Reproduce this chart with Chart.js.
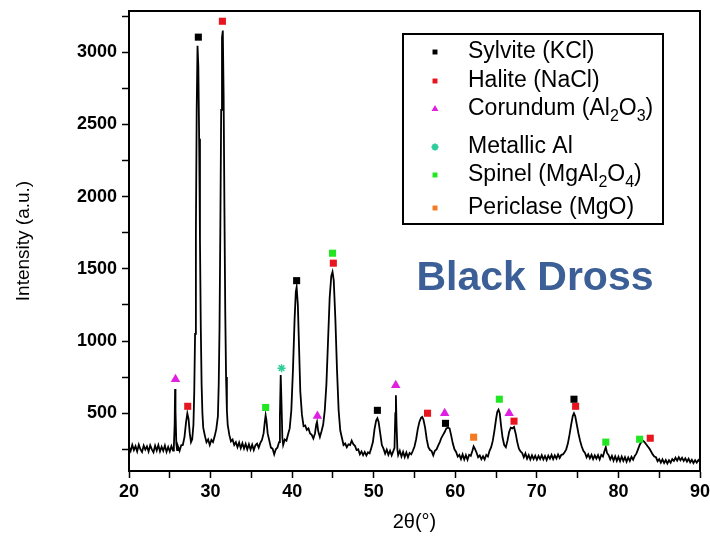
<!DOCTYPE html>
<html><head><meta charset="utf-8">
<script src="https://cdn.jsdelivr.net/npm/chart.js@4/dist/chart.umd.min.js"></script>
<style>html,body{margin:0;padding:0;background:#fff}</style>
</head><body>
<canvas id="c" width="710" height="536"></canvas>
<script>
// XRD scan: [2theta, intensity]
const scan = [
[20.0,265],[20.2,238],[20.4,280],[20.6,245],[20.8,272],[21.0,236],[21.2,282],[21.4,250],[21.6,232],[21.8,276],
[22.0,248],[22.2,270],[22.4,235],[22.6,278],[22.8,250],[23.0,230],[23.2,275],[23.4,242],[23.6,280],[23.8,236],
[24.0,268],[24.2,240],[24.4,276],[24.6,232],[24.8,266],[25.0,235],[25.2,272],[25.4,242],[25.5,265],[25.6,430],
[25.65,668],[25.7,520],[25.8,290],[25.9,245],[26.0,272],[26.2,240],[26.4,278],[26.6,280],[26.8,335],[27.0,440],
[27.15,498],[27.3,460],[27.45,360],[27.6,300],[27.75,320],[27.9,420],[28.0,650],[28.1,1050],[28.2,1750],[28.3,2600],
[28.4,3045],[28.5,2900],[28.6,2400],[28.7,1700],[28.8,1100],[28.9,700],[29.0,500],[29.1,400],[29.3,345],[29.5,300],
[29.7,318],[29.9,280],[30.1,315],[30.3,300],[30.5,340],[30.7,390],[30.9,480],[31.0,700],[31.1,1100],[31.2,1800],
[31.3,2600],[31.4,3100],[31.5,3150],[31.6,2700],[31.7,1900],[31.8,1200],[31.9,750],[32.0,520],[32.1,420],[32.3,350],
[32.5,305],[32.7,318],[32.9,280],[33.1,300],[33.3,265],[33.5,298],[33.7,258],[33.9,292],[34.1,255],[34.3,288],
[34.5,250],[34.7,285],[34.9,248],[35.1,282],[35.3,245],[35.5,278],[35.7,290],[35.9,262],[36.1,295],[36.3,315],
[36.5,360],[36.65,440],[36.75,485],[36.85,450],[37.0,360],[37.2,310],[37.4,262],[37.6,255],[37.8,215],[38.0,250],
[38.2,262],[38.4,300],[38.5,480],[38.6,765],[38.7,560],[38.8,330],[38.9,280],[39.1,318],[39.3,310],[39.5,355],
[39.7,395],[39.9,520],[40.1,800],[40.3,1150],[40.45,1340],[40.55,1372],[40.7,1250],[40.85,950],[41.0,650],[41.2,490],
[41.4,410],[41.6,415],[41.8,385],[42.0,395],[42.2,360],[42.4,350],[42.6,325],[42.8,360],[42.95,420],[43.05,440],
[43.2,375],[43.4,335],[43.6,375],[43.8,420],[44.0,520],[44.2,700],[44.4,1000],[44.6,1300],[44.8,1450],[44.95,1478],
[45.1,1420],[45.3,1150],[45.5,800],[45.7,520],[45.9,380],[46.1,330],[46.3,280],[46.5,290],[46.7,265],[46.9,285],
[47.1,280],[47.3,310],[47.5,285],[47.7,275],[47.9,245],[48.1,250],[48.3,215],[48.5,235],[48.7,210],[48.9,232],
[49.1,208],[49.3,230],[49.5,222],[49.7,260],[49.9,300],[50.1,390],[50.3,450],[50.45,465],[50.6,440],[50.8,360],
[51.0,280],[51.2,255],[51.4,220],[51.6,248],[51.8,212],[52.0,240],[52.2,208],[52.4,238],[52.55,260],[52.65,500],
[52.72,625],[52.8,420],[52.9,250],[53.0,210],[53.2,240],[53.4,200],[53.6,232],[53.8,196],[54.0,228],[54.2,195],
[54.4,225],[54.6,215],[54.8,240],[55.0,270],[55.2,320],[55.4,390],[55.6,440],[55.8,468],[55.95,475],[56.1,455],
[56.3,400],[56.5,320],[56.7,265],[56.9,245],[57.1,238],[57.3,208],[57.5,240],[57.7,250],[57.9,275],[58.1,300],
[58.3,330],[58.5,350],[58.7,370],[58.9,395],[59.1,400],[59.3,395],[59.5,345],[59.7,290],[59.9,250],[60.1,232],
[60.3,200],[60.5,212],[60.7,182],[60.9,215],[61.1,180],[61.3,210],[61.5,178],[61.7,212],[61.9,205],[62.1,240],
[62.25,270],[62.4,255],[62.6,228],[62.8,195],[63.0,208],[63.2,182],[63.4,202],[63.6,180],[63.8,212],[64.0,200],
[64.2,240],[64.4,265],[64.6,310],[64.8,380],[65.0,460],[65.15,510],[65.3,525],[65.45,500],[65.6,420],[65.8,330],
[66.0,280],[66.2,265],[66.4,310],[66.6,370],[66.8,400],[67.0,395],[67.2,405],[67.4,360],[67.6,300],[67.8,255],
[68.0,235],[68.2,225],[68.4,195],[68.6,222],[68.8,185],[69.0,210],[69.2,180],[69.4,208],[69.6,182],[69.8,206],
[70.0,178],[70.2,205],[70.4,182],[70.6,210],[70.8,180],[71.0,204],[71.2,176],[71.4,206],[71.6,185],[71.8,212],
[72.0,182],[72.2,208],[72.4,186],[72.6,214],[72.8,190],[73.0,212],[73.2,215],[73.4,230],[73.6,250],[73.8,290],
[74.0,350],[74.2,420],[74.4,480],[74.55,500],[74.7,480],[74.9,420],[75.1,360],[75.3,310],[75.5,270],[75.7,240],
[75.9,225],[76.1,195],[76.3,215],[76.5,188],[76.7,212],[76.9,182],[77.1,208],[77.3,185],[77.5,210],[77.7,180],
[77.9,212],[78.1,200],[78.3,240],[78.45,265],[78.6,225],[78.8,210],[79.0,180],[79.2,205],[79.4,172],[79.6,202],
[79.8,170],[80.0,198],[80.2,168],[80.4,200],[80.6,170],[80.8,196],[81.0,165],[81.2,194],[81.4,170],[81.6,198],
[81.8,178],[82.0,205],[82.2,220],[82.4,250],[82.6,280],[82.8,300],[83.0,310],[83.2,300],[83.4,285],[83.6,270],
[83.8,255],[84.0,235],[84.2,215],[84.4,200],[84.6,195],[84.8,168],[85.0,182],[85.2,158],[85.4,180],[85.6,155],
[85.8,176],[86.0,152],[86.2,174],[86.4,158],[86.6,182],[86.8,170],[87.0,192],[87.2,172],[87.4,195],[87.6,175],
[87.8,192],[88.0,170],[88.2,188],[88.4,165],[88.6,185],[88.8,160],[89.0,178],[89.2,155],[89.4,175],[89.6,158],
[89.8,176],[90.0,162]
];

// phase markers [2theta, intensity]
const sylvite   = [[28.5,3104],[40.55,1418],[50.45,520],[58.8,430],[74.55,597]];
const halite    = [[27.2,548],[31.45,3214],[45.05,1539],[56.6,500],[67.2,445],[74.75,548],[83.9,327]];
const corundum  = [[25.7,735],[43.1,480],[52.7,694],[58.7,500],[66.6,500]];
const metallicAl= [[38.7,812]];
const spinel    = [[36.75,540],[44.95,1608],[65.4,597],[78.45,300],[82.6,320]];
const periclase = [[62.25,334]];

const xTickValues = [20,25,30,35,40,45,50,55,60,65,70,75,80,85,90];
const yTickValues = [250,500,750,1000,1250,1500,1750,2000,2250,2500,2750,3000,3250];

const phaseColors = {sylvite:'#000000', halite:'#e8141e', corundum:'#e020e0', metallicAl:'#2ecc9a', spinel:'#22e622', periclase:'#f47a22'};

const toXY = a => a.map(p => ({x:p[0], y:p[1]}));

function markerSet(label, arr, color, style, r){
  return {type:'scatter', label, data: toXY(arr), pointStyle: style, pointRadius: r, pointHoverRadius: r,
    backgroundColor: color, borderColor: color, borderWidth: style==='star'?1.5:0, showLine:false, order:0};
}

const legendRows = [
  {parts:[['Sylvite (KCl)',0]], color:phaseColors.sylvite, style:'rect', y:52},
  {parts:[['Halite (NaCl)',0]], color:phaseColors.halite, style:'rect', y:81},
  {parts:[['Corundum (Al',0],['2',1],['O',0],['3',1],[')',0]], color:phaseColors.corundum, style:'triangle', y:109},
  {parts:[['Metallic Al',0]], color:phaseColors.metallicAl, style:'star', y:147},
  {parts:[['Spinel (MgAl',0],['2',1],['O',0],['4',1],[')',0]], color:phaseColors.spinel, style:'rect', y:175},
  {parts:[['Periclase (MgO)',0]], color:phaseColors.periclase, style:'rect', y:208}
];

const decor = {
  id:'decor',
  afterDraw(chart){
    const ctx = chart.ctx, ca = chart.chartArea;
    ctx.save();
    ctx.strokeStyle = '#000'; ctx.lineWidth = 2;
    ctx.strokeRect(ca.left, ca.top, ca.right-ca.left, ca.bottom-ca.top);
    ctx.strokeRect(403, 34, 260, 190);
    legendRows.forEach(row => {
      ctx.fillStyle = row.color; ctx.strokeStyle = row.color;
      Chart.helpers.drawPoint(ctx, {pointStyle: row.style, radius: row.style==='triangle'?4:3.5, rotation:0, borderWidth: row.style==='star'?1.3:0}, 435, row.y);
      let x = 468;
      ctx.fillStyle = '#000';
      ctx.textBaseline = 'middle';
      row.parts.forEach(([t, sub]) => {
        ctx.font = sub ? '16px "Liberation Sans", Arial, sans-serif' : '23px "Liberation Sans", Arial, sans-serif';
        ctx.fillText(t, x, row.y + (sub ? 8 : 0));
        x += ctx.measureText(t).width;
      });
    });
    ctx.font = 'bold 41px "Liberation Sans", Arial, sans-serif';
    ctx.fillStyle = '#3b5f96';
    ctx.textAlign = 'center'; ctx.textBaseline = 'alphabetic';
    ctx.fillText('Black Dross', 535, 290);
    ctx.restore();
  }
};

new Chart(document.getElementById('c'), {
  type:'scatter',
  data:{datasets:[
    {type:'scatter', label:'XRD', data: toXY(scan), showLine:true, borderColor:'#000', backgroundColor:'#000',
     borderWidth:1.8, pointRadius:0, tension:0, order:1},
    markerSet('Sylvite (KCl)', sylvite, phaseColors.sylvite, 'rect', 5),
    markerSet('Halite (NaCl)', halite, phaseColors.halite, 'rect', 5),
    markerSet('Corundum (Al2O3)', corundum, phaseColors.corundum, 'triangle', 5.5),
    markerSet('Metallic Al', metallicAl, phaseColors.metallicAl, 'star', 4),
    markerSet('Spinel (MgAl2O4)', spinel, phaseColors.spinel, 'rect', 5),
    markerSet('Periclase (MgO)', periclase, phaseColors.periclase, 'rect', 5)
  ]},
  options:{
    responsive:false, animation:false, devicePixelRatio:1,
    layout:{padding:{left:0,right:10,top:11,bottom:0}},
    plugins:{legend:{display:false}, tooltip:{enabled:false}},
    scales:{
      x:{type:'linear', min:20, max:90,
        afterBuildTicks: s => { s.ticks = xTickValues.map(v => ({value:v})); },
        afterFit: s => { s.height = 65; s.paddingLeft = 0; s.paddingRight = 0; },
        ticks:{color:'#000', font:{family:'"Liberation Sans", Arial, sans-serif', size:18, weight:'bold'}, padding:3,
          autoSkip:false, maxRotation:0, callback: v => (v % 10 === 0 ? String(v) : '')},
        grid:{drawOnChartArea:false, drawTicks:true, tickLength:7, tickColor:'#000', tickWidth:1.5},
        border:{display:true, color:'#000', width:2},
        title:{display:true, text:'2θ(°)', color:'#000', font:{family:'"Liberation Sans", Arial, sans-serif', size:20}, padding:{top:2,bottom:2}}
      },
      y:{type:'linear', min:100, max:3285,
        afterBuildTicks: s => { s.ticks = yTickValues.map(v => ({value:v})); },
        afterFit: s => { s.width = 129; s.paddingTop = 0; s.paddingBottom = 0; },
        ticks:{color:'#000', font:{family:'"Liberation Sans", Arial, sans-serif', size:18, weight:'bold'}, padding:5,
          autoSkip:false, callback: v => (v % 500 === 0 ? String(v) : '')},
        grid:{drawOnChartArea:false, drawTicks:true, tickLength:7, tickColor:'#000', tickWidth:1.5},
        border:{display:true, color:'#000', width:2},
        title:{display:true, text:'Intensity (a.u.)', color:'#000', font:{family:'"Liberation Sans", Arial, sans-serif', size:19}, padding:{top:12,bottom:0}}
      }
    }
  },
  plugins:[decor]
});
</script>
</body></html>
